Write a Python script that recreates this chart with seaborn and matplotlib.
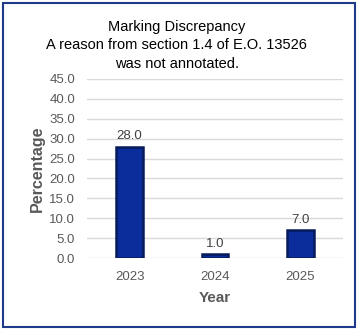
import matplotlib
matplotlib.use("Agg")
import matplotlib.pyplot as plt
import seaborn as sns
import pandas as pd
from matplotlib.patches import Rectangle

years = ["2023", "2024", "2025"]
percentages = [28.0, 1.0, 7.0]
yticks = [0, 5, 10, 15, 20, 25, 30, 35, 40, 45]
title_text = "Marking Discrepancy\nA reason from section 1.4 of E.O. 13526\nwas not annotated."

df = pd.DataFrame({"Year": years, "Percentage": percentages})

sns.set_theme(style="white")
plt.rcParams["font.family"] = ["Liberation Sans", "DejaVu Sans"]

fig = plt.figure(figsize=(3.58, 3.30), dpi=100)
ax = fig.add_axes([0.243, 0.218, 0.715, 0.543])

sns.barplot(data=df, x="Year", y="Percentage", color="#0B2D9C", width=0.31,
            edgecolor="#071B5A", linewidth=1.8, saturation=1, ax=ax)

for c in ax.containers:
    ax.bar_label(c, fmt="%.1f", padding=3, fontsize=9.5, color="#404040")

ax.set_ylim(0, 45)
ax.set_yticks(yticks)
ax.set_yticklabels([f"{v:.1f}" for v in yticks])
ax.yaxis.grid(True, color="#D9D9D9", linewidth=1)
ax.set_axisbelow(True)
for s in ax.spines.values():
    s.set_visible(False)
ax.tick_params(axis="both", length=0, labelsize=9.5, labelcolor="#595959")
ax.tick_params(axis="y", pad=8.5)
ax.tick_params(axis="x", pad=9)
ax.set_xlabel("Year", fontsize=11, fontweight="bold", color="#595959", labelpad=6)
ax.set_ylabel("Percentage", fontsize=11.5, fontweight="bold", color="#595959", labelpad=3)

fig.text(0.494, 0.94, title_text, ha="center", va="top", fontsize=10.5,
         color="#000000", linespacing=1.4)

fig.patches.append(Rectangle((0.008, 0.008), 0.984, 0.984, transform=fig.transFigure,
                             fill=False, edgecolor="#1F3A8A", linewidth=1.5))

fig.savefig("out.png", dpi=100)
